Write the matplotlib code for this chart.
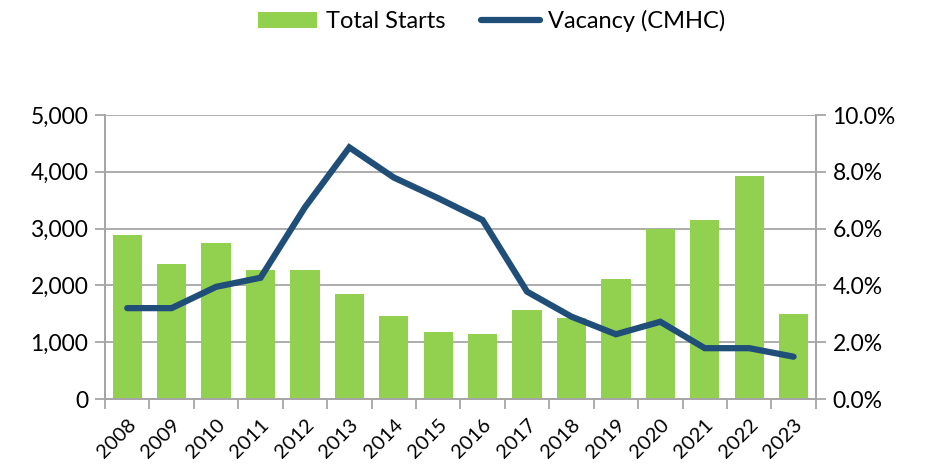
import matplotlib
matplotlib.use("Agg")
import matplotlib.pyplot as plt
import numpy as np
from matplotlib.ticker import FuncFormatter, MultipleLocator

years = ["2008", "2009", "2010", "2011", "2012", "2013", "2014", "2015",
         "2016", "2017", "2018", "2019", "2020", "2021", "2022", "2023"]
total_starts = [2890, 2380, 2740, 2280, 2280, 1850, 1470, 1180,
                1145, 1560, 1430, 2110, 2990, 3145, 3925, 1490]
vacancy_pct = [3.2, 3.2, 3.95, 4.27, 6.75, 8.86, 7.8, 7.07,
               6.3, 3.78, 2.9, 2.28, 2.72, 1.79, 1.79, 1.49]

BAR_COLOR = "#92D050"
LINE_COLOR = "#1F4E79"
GRID_COLOR = "#A6A6A6"

plt.rcParams["font.family"] = ["Lato", "DejaVu Sans"]

fig = plt.figure(figsize=(9.26, 4.67), dpi=100)
ax = fig.add_axes([0.1134, 0.1456, 0.7676, 0.6081])
ax2 = ax.twinx()

x = np.arange(len(years))
bars = ax.bar(x, total_starts, width=0.66, color=BAR_COLOR, zorder=2,
              label="Total Starts")
line, = ax2.plot(x, vacancy_pct, color=LINE_COLOR, linewidth=4.5,
                 solid_capstyle="round", solid_joinstyle="miter", zorder=3,
                 label="Vacancy (CMHC)")

ax.set_xlim(-0.5, len(years) - 0.5)
ax.set_ylim(0, 5000)
ax2.set_ylim(0, 10)
ax.yaxis.set_major_locator(MultipleLocator(1000))
ax2.yaxis.set_major_locator(MultipleLocator(2))
ax.yaxis.set_major_formatter(FuncFormatter(lambda v, p: f"{int(v):,}"))
ax2.yaxis.set_major_formatter(FuncFormatter(lambda v, p: f"{v:.1f}%"))

ax.grid(axis="y", color=GRID_COLOR, linewidth=1.3, zorder=0)
ax.set_axisbelow(True)

# category labels centred under bars, tick marks on the boundaries
ax.set_xticks(x)
ax.set_xticklabels(years, rotation=45, ha="right", rotation_mode="anchor",
                   fontsize=14.5)
ax.tick_params(axis="x", length=0, pad=12)
ax.set_xticks(np.arange(-0.5, len(years)), minor=True)
ax.tick_params(axis="x", which="minor", length=7, width=1.3, color=GRID_COLOR,
               direction="out")

ax.tick_params(axis="y", length=7, width=1.3, color=GRID_COLOR,
               labelsize=16.5, pad=5)
ax2.tick_params(axis="y", length=7, width=1.3, color=GRID_COLOR,
                labelsize=16.5, pad=5)

for a in (ax, ax2):
    a.spines["top"].set_visible(False)
    for s in ("left", "right", "bottom"):
        a.spines[s].set_color(GRID_COLOR)
        a.spines[s].set_linewidth(1.3)

fig.legend(handles=[bars, line], labels=["Total Starts", "Vacancy (CMHC)"],
           loc="center", bbox_to_anchor=(0.531, 0.955), ncol=2, frameon=False,
           fontsize=17, handlelength=2.5, handleheight=0.65,
           handletextpad=0.35, columnspacing=1.5)

fig.savefig("out.png", dpi=100)
